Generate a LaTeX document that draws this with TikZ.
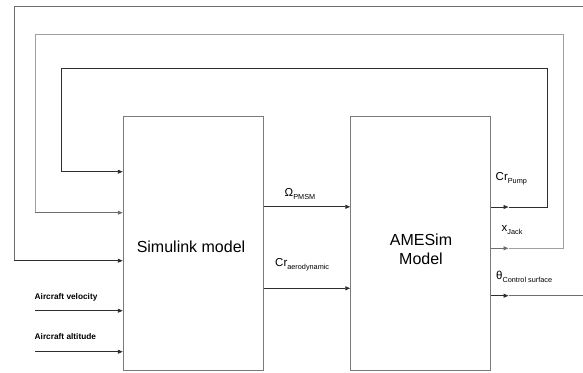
\documentclass[tikz,border=0pt]{standalone}
\usepackage{fontspec}
\setmainfont{Liberation Sans}
\usetikzlibrary{arrows.meta}
\definecolor{boxgray}{HTML}{7A7A7A}
\definecolor{darkline}{HTML}{2E2E2E}
\definecolor{midline}{HTML}{6E6E6E}
\definecolor{lightline}{HTML}{A0A0A0}
\newcommand{\lsub}[2]{#1\raisebox{-3pt}{\fontsize{7.3}{7.3}\selectfont #2}}
\begin{document}
\begin{tikzpicture}[x=1pt,y=-1pt,
  block/.style={draw=boxgray,line width=0.9pt,minimum width=140pt,minimum height=254pt,inner sep=0pt},
  blocktext/.style={inner sep=0pt,align=center,font=\fontsize{16}{19}\selectfont},
  conn/.style={line width=0.9pt},
  arr/.style={conn,-{Triangle[length=5pt,width=4pt]}},
  lbl/.style={anchor=west,inner sep=0pt,font=\fontsize{11.5}{12}\selectfont},
  inlbl/.style={anchor=west,inner sep=0pt,font=\bfseries\fontsize{8.3}{10}\selectfont}]
\useasboundingbox (0,0) rectangle (583,372);
\node[block] (sim) at (193.2,243.8) {};
\node[block] (ame) at (420.7,243.8) {};
\node[blocktext] (simt) at (191,246.5) {Simulink model};
\node[blocktext] (amet) at (421,249.5) {AMESim\\Model};
% inputs
\coordinate (vin) at (35,310.7);
\coordinate (ain) at (35,351.7);
\draw[arr,darkline] (vin) -- (sim.west |- vin);
\draw[arr,darkline] (ain) -- (sim.west |- ain);
\node[inlbl] (vl) at (34.5,297) {Aircraft velocity};
\node[inlbl] (al) at (34.5,337) {Aircraft altitude};
% simulink to amesim
\coordinate (om) at (0,206.8);
\coordinate (ca) at (0,288.3);
\draw[arr,darkline] (sim.east |- om) -- (ame.west |- om);
\draw[arr,darkline] (sim.east |- ca) -- (ame.west |- ca);
\node[lbl] (oml) at (284.5,194) {\lsub{Ω}{PMSM}};
\node[lbl] (cal) at (275,264.5) {\lsub{Cr}{aerodynamic}};
% loop 3 (Cr pump)
\coordinate (p3) at (0,207);
\coordinate (p3m) at (508.5,207);
\coordinate (p3a) at (547.3,207);
\coordinate (p3b) at (547.3,68.3);
\coordinate (p3c) at (61,68.3);
\coordinate (p3d) at (61,171.7);
\draw[arr,darkline] (ame.east |- p3) -- (p3m);
\draw[conn,darkline] (p3m) -- (p3a) -- (p3b) -- (p3c) -- (p3d);
\draw[arr,darkline] (p3d) -- (sim.west |- p3d);
\node[lbl] (cpl) at (495.5,178.5) {\lsub{Cr}{Pump}};
% loop 2 (x jack)
\coordinate (p2) at (0,248.3);
\coordinate (p2m) at (508.5,248.3);
\coordinate (p2a) at (563.3,248.3);
\coordinate (p2b) at (563.3,34);
\coordinate (p2c) at (35,34);
\coordinate (p2d) at (35,212.7);
\draw[arr,midline] (ame.east |- p2) -- (p2m);
\draw[conn,lightline] (p2m) -- (p2a) -- (p2b) -- (p2c) -- (p2d);
\draw[arr,midline] (p2d) -- (sim.west |- p2d);
\node[lbl] (xjl) at (501.5,229.5) {\lsub{x}{Jack}};
% loop 1 (theta)
\coordinate (p1) at (0,295.7);
\coordinate (p1m) at (508.5,295.7);
\coordinate (p1a) at (583,295.7);
\coordinate (p1t) at (583,6.7);
\coordinate (p1c) at (14.3,6.7);
\coordinate (p1d) at (14.3,260.7);
\draw[arr,darkline] (ame.east |- p1) -- (p1m);
\draw[conn,midline] (p1m) -- (p1a);
\draw[conn,midline] (p1t) -- (p1c) -- (p1d);
\draw[arr,darkline] (p1d) -- (sim.west |- p1d);
\node[lbl] (thl) at (496,277) {\lsub{θ}{Control surface}};
\end{tikzpicture}
\end{document}
